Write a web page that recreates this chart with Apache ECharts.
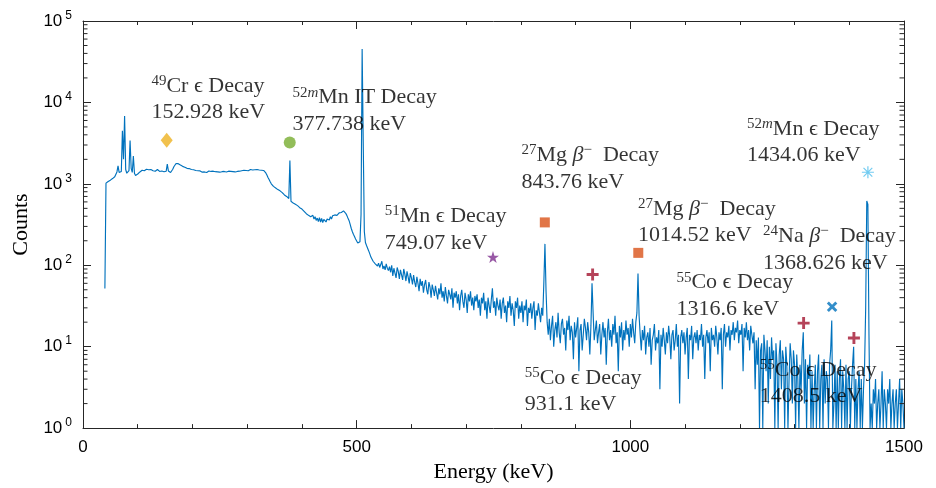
<!DOCTYPE html>
<html>
<head>
<meta charset="utf-8">
<script src="https://cdn.jsdelivr.net/npm/echarts@6/dist/echarts.min.js"></script>
<style>
  html, body { margin: 0; padding: 0; background: #ffffff; }
  #chart { width: 936px; height: 488px; }
</style>
</head>
<body>
<div id="chart"></div>
<script>
// Gamma spectrum: counts per 2 keV channel, first channel at 40 keV.
const channelStart = 40;
const channelWidth = 2;

// 40 - 318 keV
const countsLow = [
  52,1020,1040,1070,1090,1110,1130,1160,1190,1220,
  1260,1400,1660,1380,1360,1420,4500,2000,6800,1500,
  1350,1330,1450,3400,1550,1380,2200,1350,1270,1300,
  1320,1360,1400,1430,1470,1490,1450,1480,1510,1460,
  1490,1440,1500,1470,1450,1490,1430,1470,1500,1450,
  1420,1480,1440,1460,1410,1450,1430,1750,1440,1400,
  1380,1420,1510,1620,1700,1780,1810,1770,1730,1700,
  1680,1640,1620,1600,1570,1550,1520,1540,1490,1500,
  1470,1490,1440,1460,1430,1450,1410,1440,1420,1390,
  1430,1400,1420,1380,1410,1440,1390,1420,1400,1430,
  1380,1410,1440,1400,1420,1390,1430,1410,1380,1420,
  1440,1400,1410,1430,1390,1420,1450,1410,1430,1400,
  1440,1420,1460,1430,1410,1450,1440,1470,1430,1460,
  1480,1450,1470,1500,1460,1480,1450,1490,1470,1500
];
// 320 - 518 keV
const countsAnnihilation = [
  1460,1480,1510,1470,1490,1460,1420,1360,1280,1200,
  1130,1060,1000,960,930,910,890,880,850,840,
  820,800,780,760,730,710,700,680,660,1930,
  610,590,580,570,560,550,540,520,510,500,
  490,470,460,440,430,425,410,400,395,385,
  410,370,395,355,380,345,385,340,375,335,
  365,380,340,370,390,360,395,370,405,385,
  415,420,410,430,440,450,445,460,466,455,
  435,410,380,355,320,285,260,240,225,210,
  200,188,182,195,420,45300,3200,260,190,175
];
// 520 - 918 keV
const countsMid = [
  168,150,138,126,120,112,118,104,110,98,
  106,94,102,112,90,98,88,104,92,86,
  96,82,100,74,92,80,70,94,84,68,
  88,76,66,90,78,64,84,72,60,80,
  70,58,76,62,54,72,60,48,68,56,
  64,46,58,66,50,44,62,54,40,58,
  50,42,56,46,38,52,44,60,40,48,
  36,54,42,34,50,44,38,52,30,46,
  40,48,34,44,28,42,50,36,30,46,
  38,26,44,36,48,32,40,28,42,36,
  44,30,38,24,40,34,46,28,36,22,
  40,32,26,38,52,30,36,24,40,32,
  28,38,22,34,40,26,32,20,36,30,
  42,24,34,28,18,36,30,40,22,32,
  26,36,20,32,28,38,18,30,26,34,
  22,30,36,16,28,24,34,26,20,30,
  24,62,183,48,20,14,22,12,18,24,
  10,16,20,13,26,15,11,19,22,14,
  17,9,21,16,24,12,18,15,7,20,
  13,17,23,5,16,19,9,14,22,17
];
// 920 - 1318 keV
const countsHigh = [
  12,20,15,8,18,60,26,12,16,21,
  11,15,19,8,14,20,13,17,6,15,
  22,12,16,10,19,14,24,11,15,5,
  18,13,20,9,16,12,21,14,17,10,
  19,13,22,15,11,20,26,79,24,14,
  9,16,12,18,8,13,15,10,17,6,
  12,14,19,9,13,11,16,3,14,10,
  17,12,8,15,11,18,13,7,14,16,
  9,12,19,10,14,2,13,16,11,15,
  8,13,17,4,14,12,18,7,13,15,
  11,16,9,14,12,19,10,14,4,13,
  16,11,15,5,17,12,14,10,18,13,
  8,15,12,17,3,14,19,10,15,13,
  18,9,16,14,20,12,17,15,21,11,
  16,14,19,5,17,13,20,12,16,9,
  18,14,11,15,3,12,6,13,1,9,
  11,1,14,9,5,12,2,10,4,13,
  7,9,1,11,6,1,8,12,3,9,
  7,1,10,6,1,4,11,7,2,9,
  6,1,8,4,1,6,3,9,15,2
];
// 1320 - 1500 keV
const countsTail = [
  7,1,6,4,8,1,5,1,3,6,
  1,5,8,1,4,6,1,7,2,5,
  4,1,6,9,21,1,2,6,1,5,
  1,4,7,1,5,3,1,6,1,4,
  5,1,3,6,10,1,4,1,3,5,
  1,4,1,3,6,30,617,560,14,1,
  2,1,3,2,4,1,2,3,1,2,
  5,1,3,2,1,3,2,4,1,2,
  3,1,2,3,1,2,4,1,3,2,
  1
];

// Identified gamma lines
const lineEnergies = [152.928, 377.738, 749.07, 843.76, 931.1, 1014.52, 1316.6, 1368.626, 1408.5, 1434.06];
const lineMarkerCounts = [3440, 3215, 126, 336, 77, 142, 19.5, 31, 12.8, 1387];
const lineMassNumbers = ['49', '52m', '51', '27', '55', '27', '55', '24', '55', '52m'];
const lineElements = ['Cr', 'Mn', 'Mn', 'Mg', 'Co', 'Mg', 'Co', 'Na', 'Co', 'Mn'];
const lineDecayModes = ['ec', 'IT', 'ec', 'beta', 'ec', 'beta', 'ec', 'beta', 'ec', 'ec'];

// Axis ticks
const xTickValues = [0, 500, 1000, 1500];
const yDecadeExponents = [0, 1, 2, 3, 4, 5];

// ---- build series data ----
const spectrumCounts = countsLow.concat(countsAnnihilation, countsMid, countsHigh, countsTail);
const spectrum = spectrumCounts.map((c, i) => [channelStart + i * channelWidth, c]);

// Label anchors (data coordinates, left-middle of each two-line label)
const labelAnchors = [
  [125.0, 10940], [382.6, 7870], [551.3, 273], [801.0, 1539], [807.0, 2.82],
  [1014.1, 339], [1084.2, 42.1], [1242.5, 156], [1236.4, 3.55], [1213.2, 3234]
];

const plusPath = 'path://M38,0H62V38H100V62H62V100H38V62H0V38H38Z';
const starPath = 'path://M50,0L61.8,35.3L99,35.3L69,57.4L80.4,93L50,71L19.6,93L31,57.4L1,35.3L38.2,35.3Z';
const asteriskPath = 'path://M45,0H55V100H45Z M0,45H100V55H0Z M10,17L17,10L90,83L83,90Z M83,10L90,17L17,90L10,83Z';

const markerStyles = [
  { symbol: 'diamond', size: [12, 15], color: '#EDB120' },
  { symbol: 'circle', size: 12, color: '#77AC30' },
  { symbol: starPath, size: 12, color: '#7E2F8E' },
  { symbol: 'rect', size: 10, color: '#D95319' },
  { symbol: plusPath, size: 12, color: '#A2142F' },
  { symbol: 'rect', size: 10, color: '#D95319' },
  { symbol: plusPath, size: 12, color: '#A2142F' },
  { symbol: plusPath, size: 12, color: '#0072BD', rotate: 45 },
  { symbol: plusPath, size: 12, color: '#A2142F' },
  { symbol: asteriskPath, size: 12, color: '#4DBEEE' }
];

const markerData = lineEnergies.map((e, i) => ({
  value: [e, lineMarkerCounts[i]],
  symbol: markerStyles[i].symbol,
  symbolSize: markerStyles[i].size,
  symbolRotate: markerStyles[i].rotate || 0,
  itemStyle: { color: markerStyles[i].color }
}));

function decayLabel(i) {
  const mass = lineMassNumbers[i];
  const num = mass.replace(/[a-z]/g, '');
  const meta = mass.replace(/[0-9]/g, '');
  let head = '{s|' + num + '}' + (meta ? '{si|' + meta + '}' : '');
  head += '{t|' + lineElements[i] + ' }';
  const mode = lineDecayModes[i];
  if (mode === 'ec') head += '{t|\u03F5 Decay}';
  else if (mode === 'beta') head += '{bi|\u03B2}{s|\u2212}{t|  Decay}';
  else head += '{t|IT Decay}';
  return head + '\n{t|' + lineEnergies[i] + ' keV}';
}

const serif = 'Liberation Serif, DejaVu Serif, serif';
const sans = 'Liberation Sans, Arial, sans-serif';
const axisColor = '#262626';

const minorTickValues = [];
yDecadeExponents.slice(0, -1).forEach(p => {
  for (let m = 2; m <= 9; m++) minorTickValues.push([0, m * Math.pow(10, p)]);
});

const chart = echarts.init(document.getElementById('chart'), null, { renderer: 'canvas' });

const xAxisBase = {
  type: 'value', min: 0, max: 1500, interval: 500,
  axisLine: { show: true, onZero: false, lineStyle: { color: axisColor, width: 1 } },
  axisTick: { show: true, inside: true, length: 8, lineStyle: { color: axisColor } },
  minorTick: { show: true, splitNumber: 5, length: 4, lineStyle: { color: axisColor } },
  splitLine: { show: false }
};
const yAxisBase = {
  type: 'log', logBase: 10, min: 1, max: 100000,
  axisLine: { show: true, onZero: false, lineStyle: { color: axisColor, width: 1 } },
  axisTick: { show: true, inside: true, length: 8, lineStyle: { color: axisColor } },
  minorTick: { show: false },
  splitLine: { show: false }
};

chart.setOption({
  animation: false,
  backgroundColor: '#ffffff',
  grid: { left: 83, right: 32, top: 21, bottom: 57 },
  xAxis: [
    Object.assign({}, xAxisBase, {
      position: 'bottom',
      name: 'Energy (keV)', nameLocation: 'middle', nameGap: 31,
      nameTextStyle: { fontFamily: serif, fontSize: 22, color: '#000' },
      axisLabel: {
        margin: 11, fontFamily: sans, fontSize: 17, color: '#000',
        formatter: v => (xTickValues.indexOf(v) >= 0 ? String(v) : '')
      }
    }),
    Object.assign({}, xAxisBase, { position: 'top', axisLabel: { show: false } })
  ],
  yAxis: [
    Object.assign({}, yAxisBase, {
      position: 'left',
      name: 'Counts', nameLocation: 'middle', nameGap: 48,
      nameTextStyle: { fontFamily: serif, fontSize: 22, color: '#000' },
      axisLabel: {
        margin: 11,
        formatter: v => '{b|10}{e|' + Math.round(Math.log10(v)) + '}',
        rich: {
          b: { fontFamily: sans, fontSize: 17, color: '#000' },
          e: { fontFamily: sans, fontSize: 12, color: '#000', padding: [0, 0, 11, 3] }
        }
      }
    }),
    Object.assign({}, yAxisBase, { position: 'right', axisLabel: { show: false } })
  ],
  series: [
    {
      type: 'line', name: 'spectrum', data: spectrum,
      xAxisIndex: 0, yAxisIndex: 0,
      showSymbol: false, symbol: 'none', sampling: null,
      lineStyle: { color: '#0072BD', width: 1.15 },
      z: 2, silent: true
    },
    {
      type: 'custom', name: 'yMinorTicks', data: minorTickValues,
      xAxisIndex: 0, yAxisIndex: 0, silent: true, z: 6,
      renderItem: (params, api) => {
        const v = api.value(1);
        const l = api.coord([0, v]);
        const r = api.coord([1500, v]);
        const st = { stroke: axisColor, lineWidth: 1 };
        return {
          type: 'group', children: [
            { type: 'line', shape: { x1: l[0], y1: l[1], x2: l[0] + 4.5, y2: l[1] }, style: st },
            { type: 'line', shape: { x1: r[0] - 4.5, y1: r[1], x2: r[0], y2: r[1] }, style: st }
          ]
        };
      }
    },
    {
      type: 'scatter', name: 'lines', data: markerData,
      xAxisIndex: 0, yAxisIndex: 0, z: 4, silent: true
    },
    {
      type: 'scatter', name: 'labels', data: labelAnchors,
      xAxisIndex: 0, yAxisIndex: 0, z: 8, silent: true,
      symbol: 'circle', symbolSize: 0,
      label: {
        show: true, position: 'right', distance: 0,
        formatter: p => decayLabel(p.dataIndex),
        fontFamily: serif, fontSize: 22, color: '#000', lineHeight: 26.5,
        rich: {
          t: { fontFamily: serif, fontSize: 22, color: '#000', lineHeight: 26.5 },
          bi: { fontFamily: serif, fontSize: 22, fontStyle: 'italic', color: '#000', lineHeight: 26.5 },
          s: { fontFamily: serif, fontSize: 15, color: '#000', lineHeight: 26.5, padding: [0, 0, 10, 0] },
          si: { fontFamily: serif, fontSize: 15, fontStyle: 'italic', color: '#000', lineHeight: 26.5, padding: [0, 0, 10, 0] }
        }
      }
    }
  ]
});
</script>
</body>
</html>
